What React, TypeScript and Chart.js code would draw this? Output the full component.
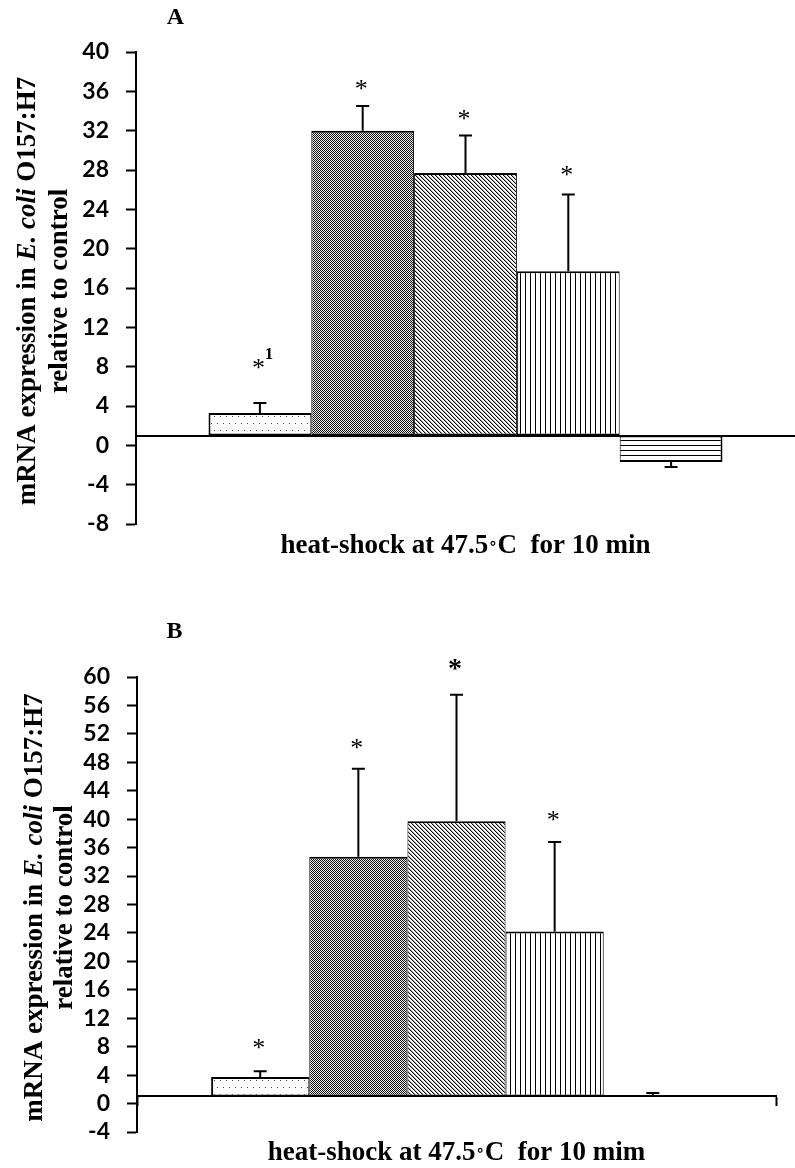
import React, { useEffect, useRef } from 'react';
import { Chart, registerables } from 'chart.js';

Chart.register(...registerables);

// ---------- data ----------
const seriesNames = ['Gene 1', 'Gene 2', 'Gene 3', 'Gene 4', 'Gene 5'];
const categoryLabels = [''];
const baseValue = 1;

const valuesA = [3.3, 32.0, 27.7, 17.7, -1.7];
const errorsA = [1.0, 2.5, 3.8, 7.8, 0.5];
const starsA = ['*', '*', '*', '*', ''];
const starLevelsA = [8.4, 36.8, 33.7, 28.1, null];
const starNotesA = ['1', '', '', '', ''];
const yTicksA = [-8, -4, 0, 4, 8, 12, 16, 20, 24, 28, 32, 36, 40];

const valuesB = [3.75, 34.7, 39.7, 24.2, 1.2];
const errorsB = [0.8, 12.4, 17.8, 12.6, 0.3];
const starsB = ['*', '*', '*', '*', ''];
const starLevelsB = [8.6, 50.8, 62.0, 40.6, null];
const starNotesB = ['', '', '', '', ''];
const yTicksB = [-4, 0, 4, 8, 12, 16, 20, 24, 28, 32, 36, 40, 44, 48, 52, 56, 60];

const yTitleParts = ['mRNA expression in ', 'E. coli', ' O157:H7'];
const yTitleLine2 = 'relative to control';
const xTitlePartsA = ['heat-shock at 47.5', '\u2218', 'C  for 10 min'];
const xTitlePartsB = ['heat-shock at 47.5', '\u2218', 'C  for 10 mim'];

// ---------- styles ----------
const SERIF = "'Liberation Serif', 'Times New Roman', serif";
const TICKFONT = 'Lato';

function makePattern(kind: string): CanvasPattern | string {
  const c = document.createElement('canvas');
  let w = 4, h = 4;
  if (kind === 'dots') { w = 6; h = 14; }
  if (kind === 'checker') { w = 2; h = 2; }
  if (kind === 'diag') { w = 4; h = 4; }
  if (kind === 'vert') { w = 5; h = 1; }
  if (kind === 'horiz') { w = 1; h = 5; }
  c.width = w; c.height = h;
  const g = c.getContext('2d')!;
  g.fillStyle = '#fff';
  g.fillRect(0, 0, w, h);
  if (kind === 'dots') {
    g.fillStyle = '#444';
    g.fillRect(1, 3, 1, 1);
    g.fillRect(4, 10, 1, 1);
  } else if (kind === 'checker') {
    g.fillStyle = '#111';
    g.fillRect(0, 0, 1, 1);
    g.fillRect(1, 1, 1, 1);
    g.fillStyle = '#eee';
    g.fillRect(1, 0, 1, 1);
    g.fillRect(0, 1, 1, 1);
  } else if (kind === 'diag') {
    for (let i = 0; i < 4; i++) {
      g.fillStyle = '#000';
      g.fillRect(i, i, 1, 1);
      g.fillStyle = '#aaa';
      g.fillRect((i + 1) % 4, i, 1, 1);
    }
  } else if (kind === 'vert') {
    g.fillStyle = '#000';
    g.fillRect(0, 0, 1, 1);
  } else if (kind === 'horiz') {
    g.fillStyle = '#000';
    g.fillRect(0, 0, 1, 1);
  }
  return g.createPattern(c, 'repeat') || '#fff';
}

const patternKinds = ['dots', 'checker', 'diag', 'vert', 'horiz'];

type Panel = {
  letter: string;
  values: number[];
  errors: number[];
  stars: string[];
  starLevels: (number | null)[];
  starNotes: string[];
  starSizes: number[];
  starBold: boolean[];
  ticks: number[];
  xTitleParts: string[];
  padTop: number;
  padBottom: number;
  padRight: number;
  axisWidth: number;
  catPct: number;
  yTitleOffsets: [number, number];
  yTitleShift: number;
  letterDx: number;
  letterBaseline: number;
  xTitleDy: number;
  endTick: boolean;
};

const panelA: Panel = {
  letter: 'A',
  values: valuesA,
  errors: errorsA,
  stars: starsA,
  starLevels: starLevelsA,
  starNotes: starNotesA,
  starSizes: [26, 26, 26, 26, 26],
  starBold: [false, false, false, false, false],
  ticks: yTicksA,
  xTitleParts: xTitlePartsA,
  padTop: 52,
  padBottom: 56,
  padRight: 0,
  axisWidth: 136,
  catPct: 0.78,
  yTitleOffsets: [-101, -69],
  yTitleShift: 3,
  letterDx: 39.5,
  letterBaseline: 24,
  xTitleDy: 29,
  endTick: false,
};

const panelB: Panel = {
  letter: 'B',
  values: valuesB,
  errors: errorsB,
  stars: starsB,
  starLevels: starLevelsB,
  starNotes: starNotesB,
  starSizes: [26, 26, 28, 26, 26],
  starBold: [false, false, true, false, false],
  ticks: yTicksB,
  xTitleParts: xTitlePartsB,
  padTop: 97,
  padBottom: 36,
  padRight: 19,
  axisWidth: 137,
  catPct: 0.768,
  yTitleOffsets: [-95, -65],
  yTitleShift: 3,
  letterDx: 37.5,
  letterBaseline: 58,
  xTitleDy: 28,
  endTick: true,
};

function annotatePlugin(p: Panel) {
  return {
    id: 'annotate' + p.letter,
    afterDatasetsDraw(chart: any) {
      const ctx = chart.ctx as CanvasRenderingContext2D;
      const ys = chart.scales.y;
      ctx.save();
      ctx.strokeStyle = '#000';
      ctx.fillStyle = '#000';
      ctx.lineWidth = 2;
      p.values.forEach((v, i) => {
        const bar = chart.getDatasetMeta(i).data[0];
        if (!bar) return;
        const x = bar.x;
        const end = v >= baseValue ? v + p.errors[i] : v - p.errors[i];
        const y0 = ys.getPixelForValue(v);
        const y1 = ys.getPixelForValue(end);
        ctx.beginPath();
        ctx.moveTo(x, y0);
        ctx.lineTo(x, y1);
        ctx.moveTo(x - 6.5, y1);
        ctx.lineTo(x + 6.5, y1);
        ctx.stroke();
        const lvl = p.starLevels[i];
        if (p.stars[i] && lvl !== null && lvl !== undefined) {
          const size = p.starSizes[i];
          const sy = ys.getPixelForValue(lvl);
          ctx.font = `${p.starBold[i] ? 'bold ' : ''}${size}px ${SERIF}`;
          ctx.textAlign = 'center';
          ctx.textBaseline = 'alphabetic';
          ctx.fillText(p.stars[i], x - 1.5, sy + 0.52 * size);
          if (p.starNotes[i]) {
            ctx.font = `bold 17px ${SERIF}`;
            ctx.fillText(p.starNotes[i], x + 9, sy - 4);
          }
        }
      });
      ctx.restore();
    },
    afterDraw(chart: any) {
      const ctx = chart.ctx as CanvasRenderingContext2D;
      const ca = chart.chartArea;
      ctx.save();
      ctx.fillStyle = '#000';
      ctx.textBaseline = 'alphabetic';
      // panel letter
      ctx.font = `bold 24px ${SERIF}`;
      ctx.textAlign = 'center';
      ctx.fillText(p.letter, ca.left + p.letterDx, p.letterBaseline);
      // x title (degree ring drawn smaller, at mid height)
      const xf = [`bold 27px ${SERIF}`, `bold 15px 'DejaVu Sans', sans-serif`, `bold 27px ${SERIF}`];
      const xdy = [0, -5, 0];
      ctx.textAlign = 'left';
      let xt = 0;
      const xw = p.xTitleParts.map((t, k) => {
        ctx.font = xf[k];
        const w = ctx.measureText(t).width;
        xt += w;
        return w;
      });
      let xp = (ca.left + ca.right) / 2 - xt / 2;
      p.xTitleParts.forEach((t, k) => {
        ctx.font = xf[k];
        ctx.fillText(t, xp, ca.bottom + p.xTitleDy + xdy[k]);
        xp += xw[k];
      });
      // y title (rotated, mixed styles)
      const cy = (ca.top + ca.bottom) / 2 + p.yTitleShift;
      const fonts = [`bold 27px ${SERIF}`, `italic bold 27px ${SERIF}`, `bold 27px ${SERIF}`];
      ctx.save();
      ctx.translate(ca.left + p.yTitleOffsets[0], cy);
      ctx.rotate(-Math.PI / 2);
      let total = 0;
      const widths = yTitleParts.map((t, k) => {
        ctx.font = fonts[k];
        const w = ctx.measureText(t).width;
        total += w;
        return w;
      });
      let pos = -total / 2;
      yTitleParts.forEach((t, k) => {
        ctx.font = fonts[k];
        ctx.fillText(t, pos, 0);
        pos += widths[k];
      });
      ctx.restore();
      ctx.save();
      ctx.translate(ca.left + p.yTitleOffsets[1], cy);
      ctx.rotate(-Math.PI / 2);
      ctx.font = `bold 27px ${SERIF}`;
      ctx.textAlign = 'center';
      ctx.fillText(yTitleLine2, 0, 0);
      ctx.restore();
      ctx.restore();
    },
  };
}

function buildChart(canvas: HTMLCanvasElement, p: Panel) {
  const n = seriesNames.length;
  return new Chart(canvas, {
    type: 'bar',
    data: {
      labels: categoryLabels,
      datasets: seriesNames.map((name, i) => ({
        label: name,
        data: [p.values[i]],
        base: baseValue,
        backgroundColor: makePattern(patternKinds[i]) as any,
        borderColor: '#000',
        borderWidth: { top: 2, bottom: 2, left: i === 0 ? 2 : 1, right: i === n - 1 ? 2 : 1 },
        borderSkipped: false,
        categoryPercentage: p.catPct,
        barPercentage: 1,
      })) as any,
    },
    options: {
      responsive: false,
      animation: false,
      devicePixelRatio: 1,
      layout: { padding: { top: p.padTop, bottom: p.padBottom, left: 0, right: p.padRight } },
      plugins: { legend: { display: false }, tooltip: { enabled: false } },
      scales: {
        x: {
          position: { y: baseValue } as any,
          ticks: { display: false },
          grid: {
            display: true,
            drawOnChartArea: false,
            drawTicks: p.endTick,
            tickLength: 9,
            tickWidth: 2,
            tickColor: '#000',
            offset: true,
          },
          border: { display: true, color: '#000', width: 2 },
          afterFit: (s: any) => { s.height = 0; },
        },
        y: {
          min: p.ticks[0],
          max: p.ticks[p.ticks.length - 1],
          afterBuildTicks: (s: any) => { s.ticks = p.ticks.map((v) => ({ value: v })); },
          ticks: {
            color: '#000',
            padding: 17,
            autoSkip: false,
            font: { family: TICKFONT, size: 23, weight: 'bold', lineHeight: 1 },
          },
          grid: {
            drawOnChartArea: false,
            drawTicks: true,
            tickLength: 10,
            tickWidth: 2,
            tickColor: '#000',
          },
          border: { display: true, color: '#000', width: 2 },
          afterFit: (s: any) => { s.width = p.axisWidth; },
        },
      },
    } as any,
    plugins: [annotatePlugin(p)],
  });
}

export default function App() {
  const refA = useRef<HTMLCanvasElement>(null);
  const refB = useRef<HTMLCanvasElement>(null);

  useEffect(() => {
    const a = buildChart(refA.current!, panelA);
    const b = buildChart(refB.current!, panelB);
    return () => {
      a.destroy();
      b.destroy();
    };
  }, []);

  return (
    <div style={{ position: 'absolute', left: 0, top: 0, width: 795, height: 1168, background: '#fff', overflow: 'hidden' }}>
      <canvas ref={refA} width={795} height={580} style={{ display: 'block', width: 795, height: 580 }} />
      <canvas ref={refB} width={795} height={588} style={{ display: 'block', width: 795, height: 588 }} />
    </div>
  );
}
